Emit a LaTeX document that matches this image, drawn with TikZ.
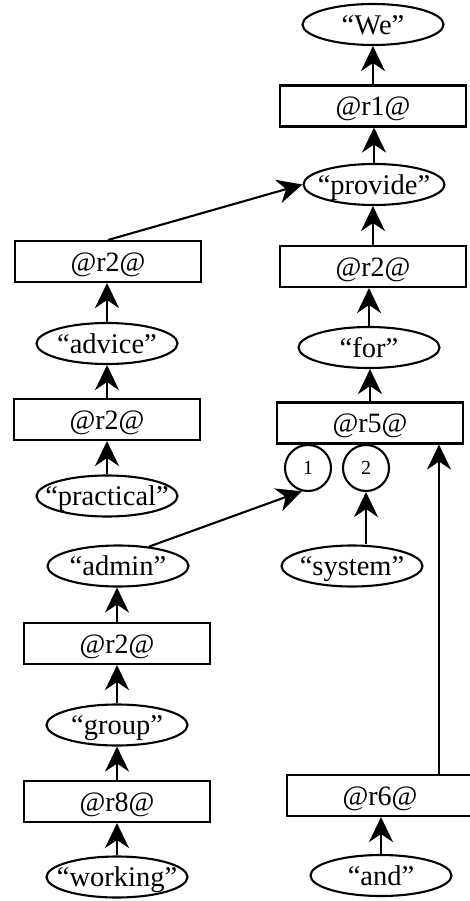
\documentclass[tikz,border=0pt]{standalone}
\usepackage{fontspec}
\setmainfont{Liberation Serif}
\usetikzlibrary{arrows.meta,shapes.geometric}
\newcommand{\wrd}[1]{\makebox[0pt]{“#1”}}

\begin{document}
\begin{tikzpicture}[x=1pt, y=-1pt, line width=2.1pt,
        word/.style={draw, ellipse, minimum width=141pt, minimum height=41pt, inner sep=0pt,
            font=\fontsize{28.5}{32}\selectfont, text height=19.5pt, text depth=0pt},
        rule/.style={draw, rectangle, minimum width=186pt, minimum height=41pt, inner sep=0pt,
            font=\fontsize{28}{32}\selectfont, text height=19.5pt, text depth=0pt},
        slot/.style={draw, circle, minimum size=46pt, inner sep=0pt, font=\fontsize{20}{24}\selectfont},
        arr/.style={-{Stealth[length=25pt, width=24pt, inset=8pt]}}]
    \useasboundingbox (0,0) rectangle (469,901);
    % right branch
    \node[word] (we) at (373,24.5) {\wrd{We}};
    \node[rule] (rone) at (373,106) {@r1@};
    \node[word] (provide) at (374,184.5) {\wrd{provide}};
    \node[rule] (rtwo) at (373,266.5) {@r2@};
    \node[word] (for) at (369,347.5) {\wrd{for}};
    \node[rule] (rfive) at (370,423) {@r5@};
    \node[slot] (one) at (308,468) {1};
    \node[slot] (two) at (366,468) {2};
    \node[word] (system) at (352,566) {\wrd{system}};
    \node[rule] (rsix) at (380,795.5) {@r6@};
    \node[word] (and) at (381,875.5) {\wrd{and}};
    % left branch
    \node[rule] (rtwoa) at (108,261.5) {@r2@};
    \node[word] (advice) at (107,343.5) {\wrd{advice}};
    \node[rule] (rtwob) at (107,419.5) {@r2@};
    \node[word] (practical) at (107,496) {\wrd{practical}};
    \node[word] (admin) at (118,566) {\wrd{admin}};
    \node[rule] (rtwoc) at (117,643.5) {@r2@};
    \node[word] (group) at (117,725) {\wrd{group}};
    \node[rule] (reight) at (117,801.5) {@r8@};
    \node[word] (working) at (117,877) {\wrd{working}};

    \draw[arr] (rone.north) -- (rone.north |- we.south);
    \draw[arr] (provide.north) -- (provide.north |- rone.south);
    \draw[arr] (rtwo.north) -- (rtwo.north |- provide.south);
    \draw[arr] (for.north) -- (for.north |- rtwo.south);
    \draw[arr] (rfive.north) -- (rfive.north |- for.south);
    \draw[arr] (system.north -| two.south) -- (two.south);
    \draw[arr] (admin.32) -- (one.255);
    \draw[arr] ([xshift=59pt]rsix.north) -- ([xshift=59pt]rsix.north |- rfive.south);
    \draw[arr] (and.north) -- (and.north |- rsix.south);
    \draw[arr] (rtwoa.north) -- (provide.west);
    \draw[arr] (advice.north) -- (advice.north |- rtwoa.south);
    \draw[arr] (rtwob.north) -- (rtwob.north |- advice.south);
    \draw[arr] (practical.north) -- (practical.north |- rtwob.south);
    \draw[arr] (rtwoc.north) -- (rtwoc.north |- admin.south);
    \draw[arr] (group.north) -- (group.north |- rtwoc.south);
    \draw[arr] (reight.north) -- (reight.north |- group.south);
    \draw[arr] (working.north) -- (working.north |- reight.south);
\end{tikzpicture}
\end{document}
